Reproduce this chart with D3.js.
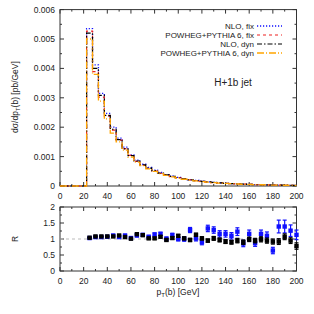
<!DOCTYPE html>
<meta charset="utf-8">
<style>
  body { margin: 0; background: #fff; }
  text { font-family: "Liberation Sans", Arial, sans-serif; fill: #222; }
</style>
<svg width="314" height="314"></svg>
<script src="https://d3js.org/d3.v7.min.js"></script>
<script>

// bin centres (5 GeV bins)
var binCenters = [25,30,35,40,45,50,55,60,65,70,75,80,85,90,95,100,105,110,115,120,
                  125,130,135,140,145,150,155,160,165,170,175,180,185,190,195,200];

// dsigma/dpT [pb/GeV]
var nloFix = [.00535,.00412,.00315,.00247,.00200,.00163,.00132,.00106,.00088,.00074,.00063,.00054,
              .00046,.00039,.00034,.00029,.00025,.00022,.00019,.000165,.000143,.000125,.000109,.000095,
              .000083,.000073,.000064,.000057,.00005,.000044,.000039,.000035,.000031,.000027,.000024,.000021];
var powFix = [.00527,.00389,.00302,.00238,.00190,.00156,.00127,.00104,.00084,.00070,.00060,.00051,
              .00043,.00038,.00032,.00028,.00024,.00021,.00018,.00016,.000135,.000118,.000104,.000091,
              .00008,.00007,.000062,.000055,.000049,.000043,.000038,.000034,.00003,.000026,.000023,.00002];
var nloDyn = [.00520,.00400,.00308,.00240,.00193,.00158,.00126,.00103,.00085,.00072,.00061,.00052,
              .00044,.00038,.00033,.00028,.00024,.00021,.00018,.000158,.000137,.00012,.000105,.000092,
              .000081,.000071,.000062,.000055,.000048,.000043,.000038,.000034,.00003,.000027,.000024,.00002];
var powDyn = [.00500,.00380,.00289,.00228,.00180,.00150,.00122,.00098,.00081,.00069,.00058,.00050,
              .00042,.00036,.00031,.00027,.00023,.00020,.000175,.000152,.000132,.000116,.000101,.000089,
              .000078,.000068,.00006,.000053,.000047,.000042,.000037,.000033,.000029,.000026,.000023,.00002];

// ratio panel
var rFix = [1.03,1.06,1.06,1.07,1.11,1.06,1.11,1.03,1.11,1.13,1.07,1.14,1.16,1.01,1.12,1.0,1.0,1.28,
            1.02,0.9,1.33,1.28,1.16,1.16,1.1,1.23,0.86,1.16,0.87,1.16,1.1,0.64,1.39,1.39,1.26,1.13];
var rFixErr = [.02,.02,.02,.02,.03,.03,.03,.03,.04,.04,.04,.05,.05,.05,.06,.06,.07,.08,
               .08,.08,.1,.1,.1,.1,.1,.12,.1,.12,.1,.12,.12,.1,.2,.2,.18,.15];
var rDyn = [1.04,1.08,1.08,1.08,1.08,1.11,1.06,1.01,1.15,1.12,1.02,1.02,1.07,0.97,1.03,1.1,1.02,0.97,
            1.13,1.02,0.95,1.02,0.97,0.92,0.9,0.95,0.9,0.99,0.95,0.99,0.95,0.92,0.92,1.07,0.95,0.78];
var rDynErr = [.01,.01,.01,.01,.02,.02,.02,.02,.02,.03,.03,.03,.03,.04,.04,.04,.04,.05,
               .05,.05,.05,.06,.06,.06,.06,.07,.07,.07,.07,.08,.08,.08,.09,.09,.09,.1];

var legendLabels = ["NLO, fix", "POWHEG+PYTHIA 6, fix", "NLO, dyn", "POWHEG+PYTHIA 6, dyn"];

var svg = d3.select("svg");
var left = 60, right = 296.5;
var topY0 = 9.6, topY1 = 186;
var botY0 = 207, botY1 = 271;
var frameCol = "#333";

var x = d3.scaleLinear().domain([0, 200]).range([left, right]);
var y = d3.scaleLinear().domain([0, 0.006]).range([topY1, topY0]);
var yr = d3.scaleLinear().domain([0, 2]).range([botY1, botY0]);

function frame(yScale, y0, y1, majors, minors, fmt) {
  var g = svg.append("g");
  // ticks
  var xt = d3.range(0, 201, 10);
  xt.forEach(function(v) {
    var len = v % 20 === 0 ? 4 : 2;
    g.append("line").attr("x1", x(v)).attr("x2", x(v)).attr("y1", y1).attr("y2", y1 - len).attr("stroke", frameCol);
    g.append("line").attr("x1", x(v)).attr("x2", x(v)).attr("y1", y0).attr("y2", y0 + len).attr("stroke", frameCol);
  });
  minors.forEach(function(v) {
    var len = majors.indexOf(v) >= 0 ? 4 : 2;
    g.append("line").attr("x1", left).attr("x2", left + len).attr("y1", yScale(v)).attr("y2", yScale(v)).attr("stroke", frameCol);
    g.append("line").attr("x1", right).attr("x2", right - len).attr("y1", yScale(v)).attr("y2", yScale(v)).attr("stroke", frameCol);
  });
  g.append("rect").attr("x", left).attr("y", y0).attr("width", right - left).attr("height", y1 - y0)
    .attr("fill", "none").attr("stroke", frameCol).attr("stroke-width", 1);
  // labels
  d3.range(0, 201, 20).forEach(function(v) {
    g.append("text").attr("x", x(v)).attr("y", y1 + 13).attr("text-anchor", "middle")
      .attr("font-size", 8.5).text(v);
  });
  majors.forEach(function(v) {
    g.append("text").attr("x", left - 5).attr("y", yScale(v) + 3).attr("text-anchor", "end")
      .attr("font-size", 8.5).text(fmt(v));
  });
}

frame(y, topY0, topY1, [0, .001, .002, .003, .004, .005, .006],
      d3.range(0, 13).map(function(i) { return +(i * 0.0005).toFixed(4); }),
      function(v) { return v === 0 ? "0" : d3.format(".3f")(v); });
frame(yr, botY0, botY1, [0, 0.5, 1, 1.5, 2], [0, .25, .5, .75, 1, 1.25, 1.5, 1.75, 2],
      function(v) { return String(v); });

// histograms
var series = [
  { vals: nloFix, color: "#1010ff", dash: "1.2,1.8", w: 1.3 },
  { vals: powFix, color: "#ee2020", dash: "3,3", w: 1.2 },
  { vals: nloDyn, color: "#000", dash: "5,2,1.5,2", w: 1.2 },
  { vals: powDyn, color: "#ffa500", dash: "7,2,1,2", w: 1.3 }
];

var step = d3.line().curve(d3.curveStepAfter)
  .x(function(d) { return x(d[0]); })
  .y(function(d) { return y(d[1]); });

series.forEach(function(s) {
  var pts = [[0, 0]];
  binCenters.forEach(function(c, i) { pts.push([c - 2.5, s.vals[i]]); });
  pts.push([200, s.vals[s.vals.length - 1]]);
  svg.append("path").attr("d", step(pts)).attr("fill", "none")
    .attr("stroke", s.color).attr("stroke-width", s.w).attr("stroke-dasharray", s.dash);
});

// legend
legendLabels.forEach(function(l, i) {
  var ly = 26 + i * 9;
  svg.append("text").attr("x", 254).attr("y", ly + 3).attr("text-anchor", "end")
    .attr("font-size", 8).text(l);
  svg.append("line").attr("x1", 257).attr("x2", 282).attr("y1", ly).attr("y2", ly)
    .attr("stroke", series[i].color).attr("stroke-width", series[i].w)
    .attr("stroke-dasharray", series[i].dash);
});

svg.append("text").attr("x", 233).attr("y", 86).attr("text-anchor", "middle")
  .attr("font-size", 10).text("H+1b jet");

// ratio reference line
svg.append("line").attr("x1", x(0)).attr("x2", x(200)).attr("y1", yr(1)).attr("y2", yr(1))
  .attr("stroke", "#bbb").attr("stroke-dasharray", "3,3");

function ratioPoints(vals, errs, color) {
  var g = svg.append("g").attr("fill", color).attr("stroke", color);
  binCenters.forEach(function(c, i) {
    var cx = x(c), cy = yr(vals[i]);
    var e0 = yr(vals[i] - errs[i]), e1 = yr(vals[i] + errs[i]);
    g.append("line").attr("x1", cx).attr("x2", cx).attr("y1", e0).attr("y2", e1).attr("stroke-width", 1.2);
    g.append("line").attr("x1", cx - 2).attr("x2", cx + 2).attr("y1", e0).attr("y2", e0).attr("stroke-width", 1.2);
    g.append("line").attr("x1", cx - 2).attr("x2", cx + 2).attr("y1", e1).attr("y2", e1).attr("stroke-width", 1.2);
    g.append("rect").attr("x", cx - 2.2).attr("y", cy - 2.2).attr("width", 4.4).attr("height", 4.4).attr("stroke", "none");
  });
}
ratioPoints(rFix, rFixErr, "#1010ff");
ratioPoints(rDyn, rDynErr, "#000");

// axis titles
var yl = svg.append("text").attr("transform", "translate(18,97) rotate(-90)")
  .attr("text-anchor", "middle").attr("font-size", 8.5);
yl.append("tspan").text("dσ/dp");
yl.append("tspan").attr("font-size", 6).attr("dy", 2).text("T");
yl.append("tspan").attr("dy", -2).text("(b) [pb/GeV]");

svg.append("text").attr("transform", "translate(18,239) rotate(-90)")
  .attr("text-anchor", "middle").attr("font-size", 8.5).text("R");

var xl = svg.append("text").attr("x", 178).attr("y", 295).attr("text-anchor", "middle")
  .attr("font-size", 8.5);
xl.append("tspan").text("p");
xl.append("tspan").attr("font-size", 6).attr("dy", 2).text("T");
xl.append("tspan").attr("dy", -2).text("(b) [GeV]");

</script>
